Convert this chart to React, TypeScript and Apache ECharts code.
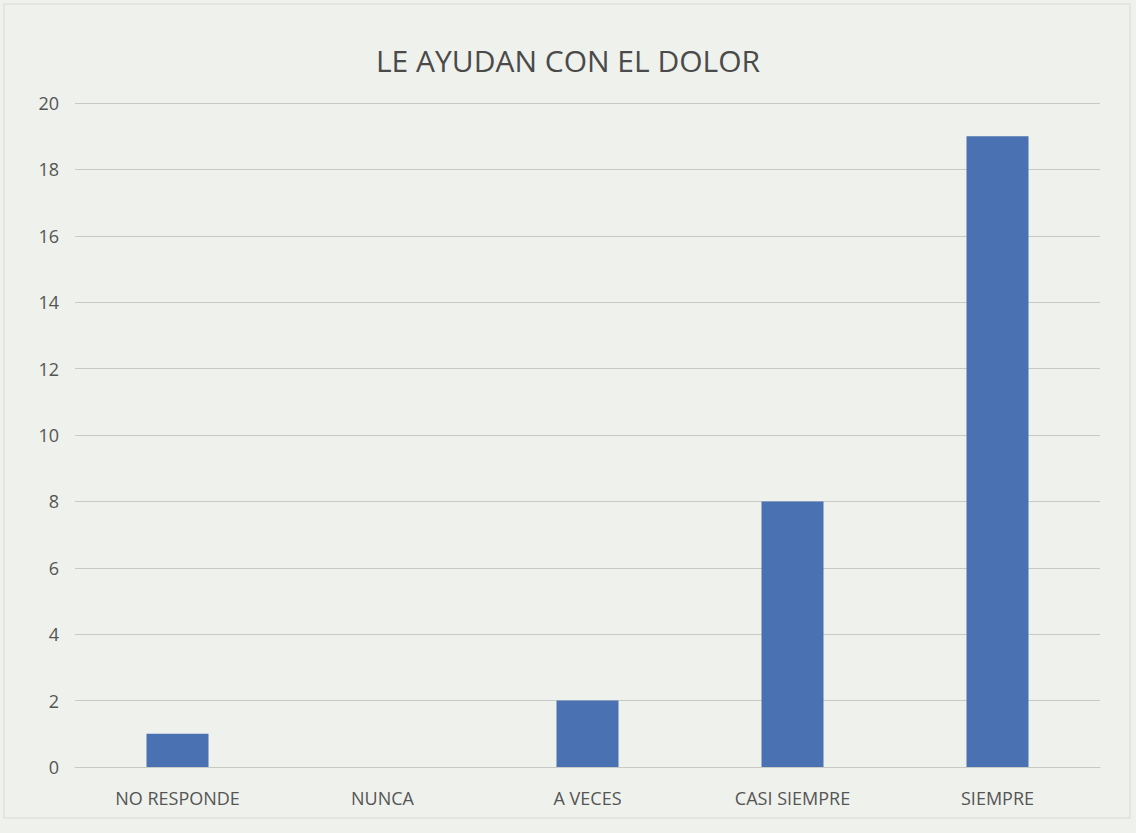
import React, { useEffect, useRef } from "react";
import * as echarts from "echarts";

const categories = ["NO RESPONDE", "NUNCA", "A VECES", "CASI SIEMPRE", "SIEMPRE"];
const values = [1, 0, 2, 8, 19];
const yTicks = { min: 0, max: 20, interval: 2 };
const titleText = "LE AYUDAN CON EL DOLOR";

export default function App() {
  const ref = useRef<HTMLDivElement>(null);
  useEffect(() => {
    if (!ref.current) return;
    const chart = echarts.init(ref.current, null, { renderer: "svg" });
    chart.setOption({
      animation: false,
      backgroundColor: "#eef1ec",
      title: {
        text: titleText,
        left: "center",
        top: 40,
        textStyle: {
          fontFamily: "Open Sans",
          fontWeight: "normal",
          fontSize: 30,
          color: "#4a4a4a",
        },
      },
      graphic: [
        {
          type: "rect",
          shape: { x: 4, y: 4, width: 1126, height: 814 },
          style: { fill: "none", stroke: "#d6d9d4", lineWidth: 1 },
          silent: true,
        },
      ],
      grid: { left: 75, right: 36, top: 103, bottom: 66 },
      xAxis: {
        type: "category",
        data: categories,
        axisLine: { lineStyle: { color: "#c8cac6" } },
        axisTick: { show: false },
        axisLabel: {
          margin: 22,
          fontFamily: "Open Sans",
          fontSize: 18,
          color: "#555",
        },
      },
      yAxis: {
        type: "value",
        min: yTicks.min,
        max: yTicks.max,
        interval: yTicks.interval,
        axisLine: { show: false },
        axisTick: { show: false },
        splitLine: { lineStyle: { color: "#c8cac6", width: 1 } },
        axisLabel: {
          margin: 16,
          fontFamily: "Open Sans",
          fontSize: 18,
          color: "#555",
        },
      },
      series: [
        {
          type: "bar",
          data: values,
          barWidth: 62,
          itemStyle: { color: "#4a71b1" },
        },
      ],
    });
    return () => chart.dispose();
  }, []);
  return (
    <div
      ref={ref}
      style={{ position: "fixed", left: 0, top: 0, width: 1136, height: 833 }}
    />
  );
}
